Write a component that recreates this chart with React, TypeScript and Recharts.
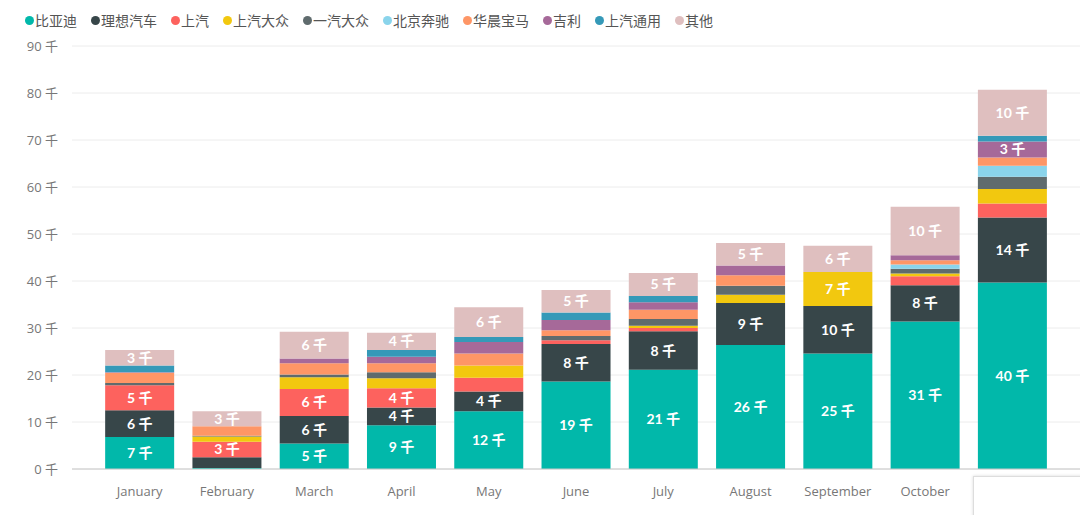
import { BarChart, Bar, XAxis, YAxis, CartesianGrid, LabelList } from 'recharts';

const months = ['January', 'February', 'March', 'April', 'May', 'June', 'July', 'August', 'September', 'October', 'November'];

// values in thousands
const byd = [6.8, 0.2, 5.4, 9.3, 12.3, 18.6, 21.1, 26.4, 24.6, 31.4, 39.7];
const lixiang = [5.7, 2.3, 5.9, 3.8, 4.2, 8.0, 8.2, 8.9, 10.1, 7.7, 13.8];
const saic = [5.3, 3.3, 5.7, 4.1, 2.9, 0.8, 0.7, 0, 0, 1.9, 3.0];
const saicVw = [0, 1.1, 2.5, 2.1, 2.6, 0, 0.5, 1.8, 7.2, 0.6, 3.1];
const fawVw = [0.5, 0.2, 0.6, 1.3, 0, 0.9, 1.4, 1.9, 0, 1.0, 2.6];
const bjBenz = [0, 0, 0, 0, 0, 0, 0, 0, 0, 0.9, 2.3];
const brilliance = [2.2, 2.0, 2.4, 1.9, 2.6, 1.2, 2.0, 2.2, 0, 0.9, 1.8];
const geely = [0.1, 0, 1.0, 1.4, 2.4, 2.2, 1.6, 2.1, 0, 1.1, 3.4];
const saicGm = [1.4, 0, 0, 1.4, 1.1, 1.6, 1.3, 0, 0, 0, 1.2];
const others = [3.3, 3.2, 5.7, 3.7, 6.3, 4.8, 4.9, 4.8, 5.6, 10.3, 9.8];

const yTicks = [0, 10, 20, 30, 40, 50, 60, 70, 80, 90];

const series = [
  { key: 'byd', name: '比亚迪', color: '#01B8AA', values: byd },
  { key: 'lixiang', name: '理想汽车', color: '#374649', values: lixiang },
  { key: 'saic', name: '上汽', color: '#FD625E', values: saic },
  { key: 'saicVw', name: '上汽大众', color: '#F2C80F', values: saicVw },
  { key: 'fawVw', name: '一汽大众', color: '#5F6B6D', values: fawVw },
  { key: 'bjBenz', name: '北京奔驰', color: '#8AD4EB', values: bjBenz },
  { key: 'brilliance', name: '华晨宝马', color: '#FE9666', values: brilliance },
  { key: 'geely', name: '吉利', color: '#A66999', values: geely },
  { key: 'saicGm', name: '上汽通用', color: '#3599B8', values: saicGm },
  { key: 'others', name: '其他', color: '#DFBFBF', values: others },
];

const data = months.map((m, i) => {
  const row: any = { month: m };
  series.forEach((s) => { row[s.key] = s.values[i]; });
  return row;
});

const font = "'Open Sans', 'Noto Sans CJK SC', sans-serif";

const Legend = () => (
  <div style={{ position: 'absolute', left: 25, top: 10, display: 'flex', alignItems: 'center', fontFamily: "'Noto Sans CJK SC', sans-serif", fontSize: 14, color: '#555', lineHeight: '20px' }}>
    {series.map((s) => (
      <span key={s.key} style={{ display: 'flex', alignItems: 'center', marginRight: 14 }}>
        <span style={{ width: 9, height: 9, borderRadius: '50%', background: s.color, display: 'inline-block', marginRight: 1 }} />
        {s.name}
      </span>
    ))}
  </div>
);

export default function App() {
  return (
    <div style={{ position: 'absolute', left: 0, top: 0, width: 1080, height: 515, background: '#fff', overflow: 'hidden' }}>
      <Legend />
      <BarChart width={1080} height={515} data={data} margin={{ top: 46, right: 0, left: 0, bottom: 6 }} barCategoryGap="10.5%">
        <CartesianGrid vertical={false} stroke="#ececec" />
        <XAxis
          dataKey="month"
          height={40}
          padding={{ left: 24, right: 24 }}
          tickLine={false}
          axisLine={{ stroke: '#c8c8c8' }}
          tickMargin={12}
          tick={{ fontSize: 13, fill: '#777', fontFamily: font }}
        />
        <YAxis
          width={72}
          domain={[0, 90]}
          ticks={yTicks}
          axisLine={false}
          tickLine={false}
          tickSize={0}
          tickMargin={14}
          tick={{ fontSize: 13, fill: '#777', fontFamily: font }}
          tickFormatter={(v) => `${v} 千`}
        />
        {series.map((s) => (
          <Bar key={s.key} dataKey={s.key} name={s.name} stackId="a" fill={s.color} isAnimationActive={false}>
            <LabelList
              dataKey={s.key}
              position="center"
              formatter={(v: any) => (v >= 3.2 ? `${Math.round(v)} 千` : '')}
              style={{ fill: '#fff', fontSize: 14, fontWeight: 700, fontFamily: "Lato, 'Noto Sans CJK SC', sans-serif" }}
            />
          </Bar>
        ))}
      </BarChart>
      <div style={{ position: 'absolute', left: 973, top: 476, width: 110, height: 45, background: '#fff', border: '1px solid #ddd', boxShadow: '0 0 3px rgba(0,0,0,0.15)' }} />
    </div>
  );
}
